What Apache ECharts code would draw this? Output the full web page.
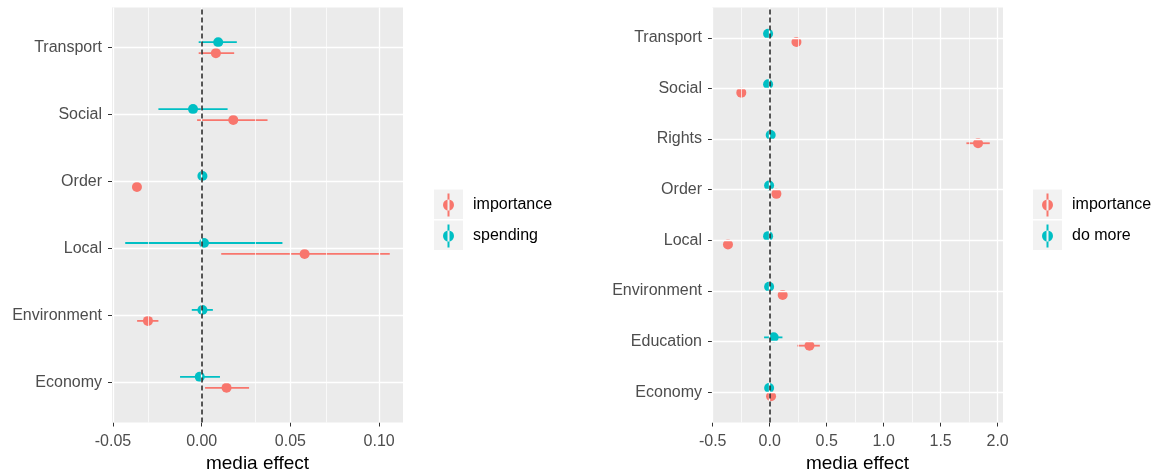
<!DOCTYPE html>
<html>
<head>
<meta charset="utf-8">
<title>media effect</title>
<script src="https://cdn.jsdelivr.net/npm/echarts@6/dist/echarts.min.js"></script>
<style>
html, body { margin: 0; padding: 0; background: #fff; }
#chart_1 { width: 1158px; height: 475px; }
</style>
</head>
<body>
<div id="chart_1"></div>
<script>
// left panel: importance vs spending (categories listed bottom to top)
var catsL = ['Economy', 'Environment', 'Local', 'Order', 'Social', 'Transport'];
var impL = [0.014, -0.0303, 0.058, -0.0365, 0.0178, 0.008];
var impLoL = [0.0019, -0.0364, 0.011, -0.0375, -0.0026, -0.0017];
var impHiL = [0.0267, -0.0244, 0.106, -0.0355, 0.0371, 0.0183];
var spdL = [-0.0011, 0.0004, 0.0013, 0.0004, -0.0049, 0.0093];
var spdLoL = [-0.0122, -0.0056, -0.0431, -0.0006, -0.0244, -0.0017];
var spdHiL = [0.0103, 0.0063, 0.0455, 0.0014, 0.0146, 0.0198];
var majL = [-0.05, 0, 0.05, 0.1];
var minL = [-0.025, 0.025, 0.075];

// right panel: importance vs do more
var catsR = ['Economy', 'Education', 'Environment', 'Local', 'Order', 'Rights', 'Social', 'Transport'];
var impR = [0.012, 0.349, 0.114, -0.366, 0.059, 1.828, -0.249, 0.235];
var impLoR = [-0.01, 0.243, 0.09, -0.39, 0.035, 1.726, -0.27, 0.21];
var impHiR = [0.034, 0.44, 0.138, -0.342, 0.083, 1.931, -0.228, 0.26];
var domR = [-0.005, 0.035, -0.005, -0.014, -0.005, 0.009, -0.014, -0.014];
var domLoR = [-0.025, -0.049, -0.025, -0.034, -0.025, -0.011, -0.034, -0.034];
var domHiR = [0.015, 0.112, 0.015, 0.006, 0.015, 0.029, 0.006, 0.006];
var majR = [-0.5, 0, 0.5, 1, 1.5, 2];
var minR = [-0.25, 0.25, 0.75, 1.25, 1.75];

var colImp = '#F8766D';
var colOther = '#00BFC4';
var font = 'Liberation Sans, Arial, sans-serif';
var dodge = 0.082;

// 5% expansion like ggplot
function expandRange(lists) {
	var all = [].concat.apply([], lists);
	var lo = Math.min.apply(null, all);
	var hi = Math.max.apply(null, all);
	var pad = (hi - lo) * 0.05;
	return [lo - pad, hi + pad];
}

function seq(n) {
	var a = [];
	for (var i = 1; i <= n; i++) a.push(i);
	return a;
}

function points(vals, shift) {
	return vals.map(function(v, i) { return [v, i + 1 + shift]; });
}

function ranges(lo, hi, shift) {
	return lo.map(function(v, i) { return [v, hi[i], i + 1 + shift]; });
}

function pointSeries(name, idx, vals, shift, color) {
	return {
		type: 'scatter', name: name, xAxisIndex: idx, yAxisIndex: idx, z: 3,
		symbol: 'circle', symbolSize: 10,
		itemStyle: { color: color, opacity: 1 },
		data: points(vals, shift)
	};
}

function rangeSeries(name, idx, lo, hi, shift, color) {
	return {
		type: 'custom', name: name, xAxisIndex: idx, yAxisIndex: idx, z: 2, silent: true,
		itemStyle: { color: color },
		encode: { x: [0, 1], y: 2 },
		data: ranges(lo, hi, shift),
		renderItem: function(params, api) {
			var a = api.coord([api.value(0), api.value(2)]);
			var b = api.coord([api.value(1), api.value(2)]);
			return {
				type: 'line',
				shape: { x1: a[0], y1: a[1], x2: b[0], y2: b[1] },
				style: { stroke: color, lineWidth: 1.8 }
			};
		}
	};
}

function gridLines(idx, majors, minors, n) {
	var d = [];
	majors.forEach(function(v) { d.push({ xAxis: v, lineStyle: { color: '#fff', width: 1.3, type: 'solid' } }); });
	minors.forEach(function(v) { d.push({ xAxis: v, lineStyle: { color: '#fff', width: 0.7, type: 'solid' } }); });
	for (var i = 1; i <= n; i++) d.push({ yAxis: i, lineStyle: { color: '#fff', width: 1.3, type: 'solid' } });
	return {
		type: 'line', xAxisIndex: idx, yAxisIndex: idx, data: [], z: 1, silent: true,
		markLine: { silent: true, symbol: ['none', 'none'], label: { show: false }, animation: false, data: d }
	};
}

function zeroLine(idx) {
	return {
		type: 'line', xAxisIndex: idx, yAxisIndex: idx, data: [], z: 5, silent: true,
		markLine: {
			silent: true, symbol: ['none', 'none'], label: { show: false }, animation: false,
			lineStyle: { color: '#222', width: 1.5, type: [5, 3] },
			data: [{ xAxis: 0 }]
		}
	};
}

function xAxisFor(idx, ext, majors, digits) {
	return {
		type: 'value', gridIndex: idx, min: ext[0], max: ext[1],
		axisLine: { show: false, onZero: false },
		splitLine: { show: false },
		axisTick: { show: true, customValues: majors, length: 4, lineStyle: { color: '#333', width: 1 } },
		axisLabel: {
			customValues: majors, color: '#4D4D4D', fontSize: 16, fontFamily: font, margin: 11,
			formatter: function(v) { return v.toFixed(digits); }
		},
		name: 'media effect', nameLocation: 'middle', nameGap: 30,
		nameTextStyle: { fontSize: 19, color: '#000', fontFamily: font }
	};
}

function yAxisFor(idx, cats) {
	return {
		type: 'value', gridIndex: idx, min: 0.4, max: cats.length + 0.6,
		axisLine: { show: false, onZero: false },
		splitLine: { show: false },
		axisTick: { show: true, customValues: seq(cats.length), length: 4, lineStyle: { color: '#333', width: 1 } },
		axisLabel: {
			customValues: seq(cats.length), color: '#4D4D4D', fontSize: 16, fontFamily: font, margin: 10,
			padding: [4, 0, 0, 0],
			formatter: function(v) { return cats[Math.round(v) - 1]; }
		}
	};
}

var extL = expandRange([impLoL, impHiL, spdLoL, spdHiL]);
var extR = expandRange([impLoR, impHiR, domLoR, domHiR]);

// legend key: point with vertical line; the two bare moves fix the icon box at 34x23
var keyPath = 'path://M0 0M34 23M13.5 0h2v23h-2z M9 11.5a5.5 5.5 0 1 0 11 0a5.5 5.5 0 1 0 -11 0z';
var keyBoxes = [[434, 189.5], [434, 220.5], [1033, 189.5], [1033, 220.5]];

function legendFor(names, left) {
	return {
		data: names, orient: 'vertical', left: left, top: 193.5, padding: 0,
		itemWidth: 34, itemHeight: 23, itemGap: 8, icon: keyPath, selectedMode: false,
		textStyle: { fontSize: 16, color: '#000', fontFamily: font, padding: [3, 0, 0, 0] }
	};
}

var option = {
	animation: false,
	backgroundColor: '#fff',
	textStyle: { fontFamily: font },
	grid: [
		{ left: 112, top: 7.5, width: 291, height: 415, show: true, backgroundColor: '#EBEBEB', borderWidth: 0, containLabel: false, outerBoundsMode: 'none' },
		{ left: 712, top: 7.5, width: 291, height: 415, show: true, backgroundColor: '#EBEBEB', borderWidth: 0, containLabel: false, outerBoundsMode: 'none' }
	],
	xAxis: [xAxisFor(0, extL, majL, 2), xAxisFor(1, extR, majR, 1)],
	yAxis: [yAxisFor(0, catsL), yAxisFor(1, catsR)],
	legend: [legendFor(['importance', 'spending'], 434), legendFor(['importance', 'do more'], 1033)],
	graphic: keyBoxes.map(function(p) {
		return { type: 'rect', left: p[0], top: p[1], z: 0, silent: true,
			shape: { width: 29, height: 29.5 }, style: { fill: '#F2F2F2' } };
	}),
	series: [
		pointSeries('importance', 0, impL, -dodge, colImp),
		pointSeries('spending', 0, spdL, dodge, colOther),
		rangeSeries('importance', 0, impLoL, impHiL, -dodge, colImp),
		rangeSeries('spending', 0, spdLoL, spdHiL, dodge, colOther),
		gridLines(0, majL, minL, catsL.length),
		zeroLine(0),
		pointSeries('importance', 1, impR, -dodge, colImp),
		pointSeries('do more', 1, domR, dodge, colOther),
		rangeSeries('importance', 1, impLoR, impHiR, -dodge, colImp),
		rangeSeries('do more', 1, domLoR, domHiR, dodge, colOther),
		gridLines(1, majR, minR, catsR.length),
		zeroLine(1)
	]
};

var myChart = echarts.init(document.getElementById('chart_1'));
myChart.setOption(option);
</script>
</body>
</html>
